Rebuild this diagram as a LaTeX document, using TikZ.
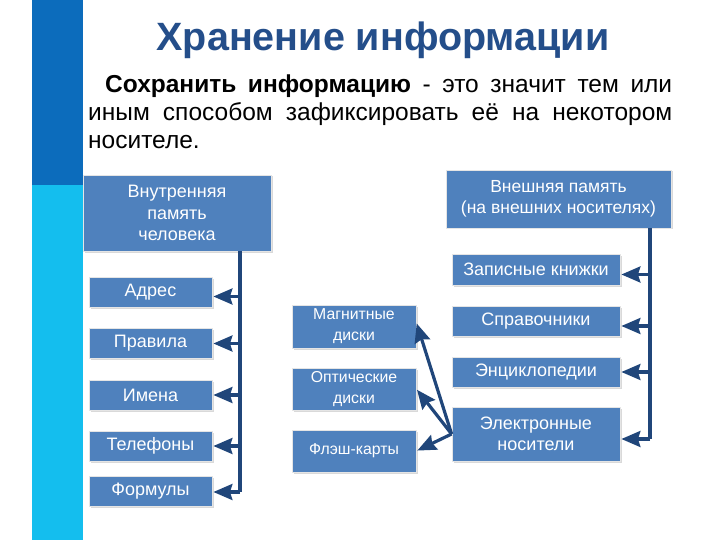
\documentclass[tikz,border=0pt]{standalone}
\usepackage{fontspec}
\setmainfont{Liberation Sans}
\usepackage{tikz}
\usetikzlibrary{
  arrows.meta,
  shadows
}
\definecolor{bardark}{RGB}{12,108,188}
\definecolor{barcyan}{RGB}{20,190,238}
\definecolor{boxblue}{RGB}{79,129,189}
\definecolor{linkblue}{RGB}{32,70,122}
\definecolor{titleblue}{RGB}{36,78,138}
\tikzset{
  x=1pt, y=-1pt,
  box/.style={fill=boxblue, draw=gray!20, line width=0.8pt, text=white,
    inner sep=0pt, align=center,
    drop shadow={shadow xshift=1.5pt, shadow yshift=-1.5pt, opacity=0.3, fill=gray}},
  item/.style={box, font=\fontsize{18}{21}\selectfont},
  link/.style={color=linkblue, line width=3.2pt},
  arr/.style={link, -{Stealth[width=16pt,length=19pt,inset=2.5pt,fill=linkblue]}, shorten >=1pt}
}

\begin{document}
\begin{tikzpicture}
    \useasboundingbox (0,0) rectangle (720,540);
    % side bar
    \fill[bardark] (32,0) rectangle (83,185);
    \fill[barcyan] (32,185) rectangle (83,540);
    % heading and text
    \node[text=titleblue, font=\fontsize{39.5}{44}\selectfont\bfseries] (title) at (383,40) {Хранение информации};
    \node[anchor=north west, inner sep=0pt, text width=584pt, align=justify,
      font=\fontsize{24.5}{28}\selectfont] (text) at (88,75)
      {\hspace*{17pt}\textbf{Сохранить информацию} - это значит тем или\linebreak
       иным способом зафиксировать её на некотором\linebreak носителе.};
    % internal memory
    \node[box, minimum width=188pt, minimum height=76pt,
      font=\fontsize{18}{21.5}\selectfont] (inner) at (177,213) {Внутренняя\\память\\человека};
    \node[item, minimum width=123pt, minimum height=30pt] (adres) at (150.5,292.5) {Адрес};
    \node[item, minimum width=123pt, minimum height=30pt] (pravila) at (150.5,343.5) {Правила};
    \node[item, minimum width=123pt, minimum height=30pt] (imena) at (150.5,395) {Имена};
    \node[item, minimum width=123pt, minimum height=30pt] (telefony) at (150.5,446) {Телефоны};
    \node[item, minimum width=123pt, minimum height=30pt] (formuly) at (150.5,491) {Формулы};
    % media
    \node[box, minimum width=124pt, minimum height=43pt,
      font=\fontsize{15.8}{21}\selectfont] (magn) at (354,326.5) {Магнитные\\диски};
    \node[box, minimum width=124pt, minimum height=42pt,
      font=\fontsize{15.8}{21}\selectfont] (opt) at (354,389) {Оптические\\диски};
    \node[box, minimum width=124pt, minimum height=42pt,
      font=\fontsize{15.8}{21}\selectfont] (flash) at (354,451) {Флэш-карты};
    % external memory
    \node[box, minimum width=225pt, minimum height=58pt,
      font=\fontsize{17.5}{21}\selectfont] (outer) at (558.5,199) {Внешняя память\\(на внешних носителях)};
    \node[item, minimum width=168pt, minimum height=31pt] (zapis) at (536,269.5) {Записные книжки};
    \node[item, minimum width=168pt, minimum height=30pt] (sprav) at (536,321) {Справочники};
    \node[item, minimum width=168pt, minimum height=30pt] (encikl) at (536,372) {Энциклопедии};
    \node[item, minimum width=168pt, minimum height=54pt] (elektr) at (536,434) {Электронные\\носители};
    % buses
    \coordinate (lbus) at (240,0);
    \coordinate (rbus) at (650,0);
    \draw[link] (inner.south -| lbus) -- ([yshift=-1pt]formuly.east -| lbus);
    \draw[arr] ([yshift=-4pt]adres.east -| lbus) -- ([yshift=-4pt]adres.east);
    \draw[arr] (pravila.east -| lbus) -- (pravila.east);
    \draw[arr] (imena.east -| lbus) -- (imena.east);
    \draw[arr] (telefony.east -| lbus) -- (telefony.east);
    \draw[arr] ([yshift=-1pt]formuly.east -| lbus) -- ([yshift=-1pt]formuly.east);
    \draw[link] (outer.south -| rbus) -- ([yshift=-5pt]elektr.east -| rbus);
    \draw[arr] ([yshift=-5pt]zapis.east -| rbus) -- ([yshift=-5pt]zapis.east);
    \draw[arr] ([yshift=-5pt]sprav.east -| rbus) -- ([yshift=-5pt]sprav.east);
    \draw[arr] (encikl.east -| rbus) -- (encikl.east);
    \draw[arr] ([yshift=-5pt]elektr.east -| rbus) -- ([yshift=-5pt]elektr.east);
    % media links
    \draw[arr] (elektr.west) -- ([yshift=4pt]magn.east);
    \draw[arr] (elektr.west) -- (opt.east);
    \draw[arr] (elektr.west) -- (flash.east);
\end{tikzpicture}
\end{document}
